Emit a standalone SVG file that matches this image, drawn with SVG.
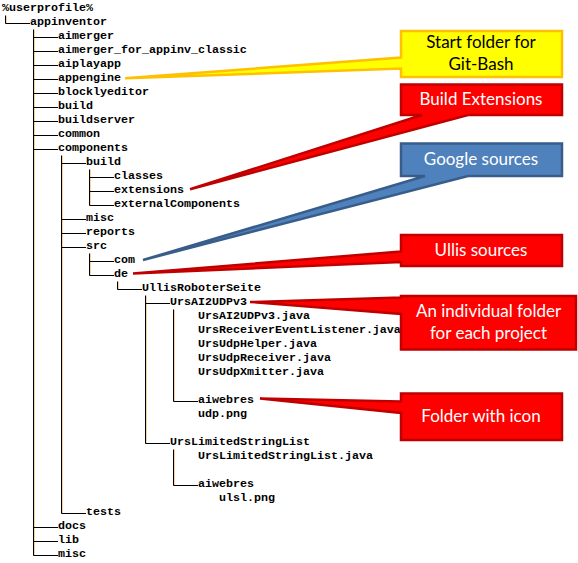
<svg xmlns="http://www.w3.org/2000/svg" width="578" height="563" viewBox="0 0 578 563">
<style>
.t{font-family:"Liberation Mono","Courier New",monospace;font-size:11.67px;font-weight:bold;fill:#000}
.ln{fill:none;stroke:#000;stroke-width:1}
.sh{fill:none;stroke:#F2B45A;stroke-width:1;opacity:0.6}
.c{font-family:Lato,"Open Sans",sans-serif;font-size:17px;text-anchor:middle}
.w{fill:#fff}
.k{fill:#000}
.red{fill:#FF0000;stroke:#C00000;stroke-width:2.5;stroke-linejoin:miter}
.yel{fill:#FFFF00;stroke:#FFC000;stroke-width:2.5}
.blu{fill:#4F81BD;stroke:#385D8A;stroke-width:2.5}
</style>
<rect width="578" height="563" fill="#fff"/>
<g id="connectors">
<path class="sh" d="M6.5,15.5V23.5 M34.5,29.5V555.5 M62.5,155.5V513.5 M90.5,169.5V205.5 M90.5,253.5V275.5 M118.5,281.5V289.5 M146.5,295.5V443.5 M174.5,309.5V401.5 M174.5,449.5V485.5"/>
<path class="ln" d="M5.5,15.5V23.5H30 M33.5,29.5V555.5 M61.5,155.5V513.5 M89.5,169.5V205.5 M89.5,253.5V275.5 M117.5,281.5V289.5H142 M145.5,295.5V443.5 M173.5,309.5V401.5 M173.5,449.5V485.5
M33.5,37.5H58 M33.5,51.5H58 M33.5,65.5H58 M33.5,79.5H58 M33.5,93.5H58 M33.5,107.5H58 M33.5,121.5H58 M33.5,135.5H58 M33.5,149.5H58 M33.5,527.5H58 M33.5,541.5H58 M33.5,555.5H58
M61.5,163.5H86 M61.5,219.5H86 M61.5,233.5H86 M61.5,247.5H86 M61.5,513.5H86
M89.5,177.5H114 M89.5,191.5H114 M89.5,205.5H114 M89.5,261.5H114 M89.5,275.5H114
M145.5,303.5H170 M145.5,443.5H170 M173.5,401.5H198 M173.5,485.5H198"/>
</g>
<g id="tree">
<text class="t" x="2" y="11.3">%userprofile%</text>
<text class="t" x="30" y="25.3">appinventor</text>
<text class="t" x="58" y="39.3">aimerger</text>
<text class="t" x="58" y="53.3">aimerger_for_appinv_classic</text>
<text class="t" x="58" y="67.3">aiplayapp</text>
<text class="t" x="58" y="81.3">appengine</text>
<text class="t" x="58" y="95.3">blocklyeditor</text>
<text class="t" x="58" y="109.3">build</text>
<text class="t" x="58" y="123.3">buildserver</text>
<text class="t" x="58" y="137.3">common</text>
<text class="t" x="58" y="151.3">components</text>
<text class="t" x="86" y="165.3">build</text>
<text class="t" x="114" y="179.3">classes</text>
<text class="t" x="114" y="193.3">extensions</text>
<text class="t" x="114" y="207.3">externalComponents</text>
<text class="t" x="86" y="221.3">misc</text>
<text class="t" x="86" y="235.3">reports</text>
<text class="t" x="86" y="249.3">src</text>
<text class="t" x="114" y="263.3">com</text>
<text class="t" x="114" y="277.3">de</text>
<text class="t" x="142" y="291.3">UllisRoboterSeite</text>
<text class="t" x="170" y="305.3">UrsAI2UDPv3</text>
<text class="t" x="198" y="319.3">UrsAI2UDPv3.java</text>
<text class="t" x="198" y="333.3">UrsReceiverEventListener.java</text>
<text class="t" x="198" y="347.3">UrsUdpHelper.java</text>
<text class="t" x="198" y="361.3">UrsUdpReceiver.java</text>
<text class="t" x="198" y="375.3">UrsUdpXmitter.java</text>
<text class="t" x="198" y="403.3">aiwebres</text>
<text class="t" x="198" y="417.3">udp.png</text>
<text class="t" x="170" y="445.3">UrsLimitedStringList</text>
<text class="t" x="198" y="459.3">UrsLimitedStringList.java</text>
<text class="t" x="198" y="487.3">aiwebres</text>
<text class="t" x="219" y="501.3">ulsl.png</text>
<text class="t" x="86" y="515.3">tests</text>
<text class="t" x="58" y="529.3">docs</text>
<text class="t" x="58" y="543.3">lib</text>
<text class="t" x="58" y="557.3">misc</text>
</g>
<g id="callout-gitbash">
<path class="yel" d="M401,31H562V77H401V68.5L125,78.3L401,57.5Z"/>
<text class="c k" x="481" y="48.3">Start folder for</text>
<text class="c k" x="481" y="70">Git-Bash</text>
</g>
<g id="callout-build">
<path class="red" d="M401,84.5H562V115H468L190,189.3L422,115H401Z"/>
<text class="c w" x="481" y="105">Build Extensions</text>
</g>
<g id="callout-google">
<path class="blu" d="M401,143.5H562V176H468L143,260L425,176H401Z"/>
<text class="c w" x="481" y="165">Google sources</text>
</g>
<g id="callout-ullis">
<path class="red" d="M401,235H562V266H401V262L133,273.5L401,251.5Z"/>
<text class="c w" x="481" y="256">Ullis sources</text>
</g>
<g id="callout-project">
<path class="red" d="M401,296H576V349.5H401V314L250,302L401,297.5Z"/>
<text class="c w" x="488.5" y="316.7">An individual folder</text>
<text class="c w" x="488.5" y="339.3">for each project</text>
</g>
<g id="callout-icon">
<path class="red" d="M401,393.5H562V440H401V413L260,398.5L401,401.5Z"/>
<text class="c w" x="481" y="421.7">Folder with icon</text>
</g>
</svg>
